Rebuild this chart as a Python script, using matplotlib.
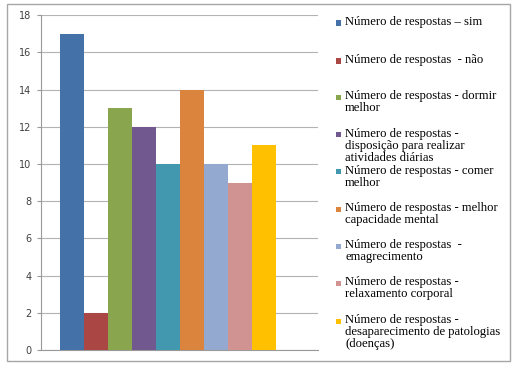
import matplotlib
matplotlib.use("Agg")
import matplotlib.pyplot as plt
from matplotlib.patches import Rectangle

labels = [
    "Número de respostas – sim",
    "Número de respostas  - não",
    "Número de respostas - dormir\nmelhor",
    "Número de respostas -\ndisposição para realizar\natividades diárias",
    "Número de respostas - comer\nmelhor",
    "Número de respostas - melhor\ncapacidade mental",
    "Número de respostas  -\nemagrecimento",
    "Número de respostas -\nrelaxamento corporal",
    "Número de respostas -\ndesaparecimento de patologias\n(doenças)",
]
values = [17, 2, 13, 12, 10, 14, 10, 9, 11]
colors = ["#4571A9", "#AA4643", "#89A54E", "#71588F", "#4198AF",
          "#DB843D", "#93A9CF", "#D19392", "#FFC000"]
yticks = [0, 2, 4, 6, 8, 10, 12, 14, 16, 18]

W, H = 514, 366
fig = plt.figure(figsize=(W / 100, H / 100), dpi=100)
fig.patch.set_facecolor("white")

# outer border
fig.patches.append(Rectangle((7 / W, 1 - 361 / H), (510 - 7) / W, (361 - 4) / H,
                             transform=fig.transFigure, fill=False,
                             edgecolor="#A6A6A6", linewidth=1.0))

ax = fig.add_axes([41 / W, 1 - 350 / H, (318 - 41) / W, (350 - 15.3) / H])
x = list(range(len(values)))
ax.bar(x, values, width=1.0, color=colors, zorder=3)
ax.set_xlim(-1.29, 10.25)
ax.set_ylim(0, 18)
ax.set_yticks(yticks)
ax.set_yticklabels([str(t) for t in yticks], fontsize=7, color="#404040")
ax.set_xticks([])
ax.grid(axis="y", color="#B3B3B3", linewidth=0.8, zorder=0)
for s in ["top", "right"]:
    ax.spines[s].set_visible(False)
ax.spines["left"].set_color("#999999")
ax.spines["bottom"].set_color("#999999")
ax.tick_params(axis="y", length=3, color="#999999", pad=4)

# legend
ys = [23, 61, 97, 135, 172, 209, 246, 283, 321]
for lab, col, yc in zip(labels, colors, ys):
    fig.patches.append(Rectangle((336 / W, 1 - (yc + 2.5) / H), 5 / W, 5 / H,
                                 transform=fig.transFigure, facecolor=col,
                                 edgecolor="none"))
    fig.text(345 / W, 1 - (yc - 7) / H, lab, fontsize=9.1,
             family="Liberation Serif", va="top", ha="left",
             linespacing=0.98, color="#000000")

fig.savefig("out.png", dpi=100)
